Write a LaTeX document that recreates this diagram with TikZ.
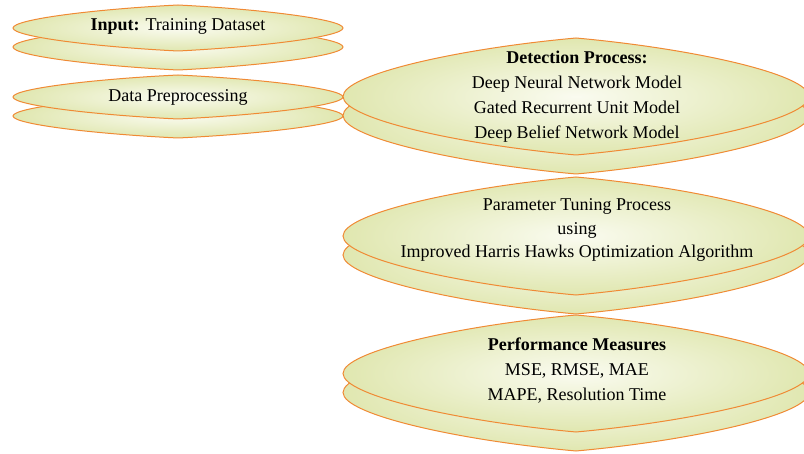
\documentclass[tikz,border=0pt]{standalone}
\usepackage{fontspec}
\setmainfont{Liberation Serif}
\usepackage{xcolor}

\definecolor{lensedge}{RGB}{240,138,52}
\definecolor{lensout}{RGB}{224,231,176}
\definecolor{lensin}{RGB}{250,251,240}

% pointed lens: centre x, centre y, half width, half height
\newcommand{\lens}[4]{%
  \path[lensfill] (#1,{#2-#4})
    .. controls ({#1+0.5*#3},{#2-0.82*#4}) and ({#1+#3},{#2-0.38*#4}) .. ({#1+#3},#2)
    .. controls ({#1+#3},{#2+0.38*#4}) and ({#1+0.5*#3},{#2+0.82*#4}) .. (#1,{#2+#4})
    .. controls ({#1-0.5*#3},{#2+0.82*#4}) and ({#1-#3},{#2+0.38*#4}) .. ({#1-#3},#2)
    .. controls ({#1-#3},{#2-0.38*#4}) and ({#1-0.5*#3},{#2-0.82*#4}) .. (#1,{#2-#4}) -- cycle;}

% two stacked lenses
\newcommand{\disk}[4]{%
  \lens{#1}{#2+19}{#3}{#4}
  \lens{#1}{#2}{#3}{#4}}

\begin{document}
\begin{tikzpicture}[x=1pt, y=-1pt,
  lensfill/.style={draw=lensedge, line width=1pt, shade, inner color=lensin, outer color=lensout},
  disktext/.style={align=center, inner sep=0pt, font=\fontsize{18}{25}\selectfont}]

\useasboundingbox (0,0) rectangle (804,454);

\disk{178}{28}{165}{23}   % input
\disk{178}{97}{165}{22}   % preprocessing
\disk{576}{96.5}{233}{58.5} % detection
\disk{576}{236}{233}{59}  % tuning
\disk{576}{373.5}{233}{58.5} % measures

\node[disktext] (input) at (178,26) {\textbf{Input:} Training Dataset};
\node[disktext] (prep) at (178,97) {Data Preprocessing};
\node[disktext] (detect) at (577,96.5) {\textbf{Detection Process:}\\ Deep Neural Network Model\\ Gated Recurrent Unit Model\\ Deep Belief Network Model};
\node[disktext, font=\fontsize{18}{23.5}\selectfont] (tune) at (577,230) {Parameter Tuning Process\\ using\\ Improved Harris Hawks Optimization Algorithm};
\node[disktext] (perf) at (577,371) {\textbf{Performance Measures}\\ MSE, RMSE, MAE\\ MAPE, Resolution Time};
\end{tikzpicture}
\end{document}
